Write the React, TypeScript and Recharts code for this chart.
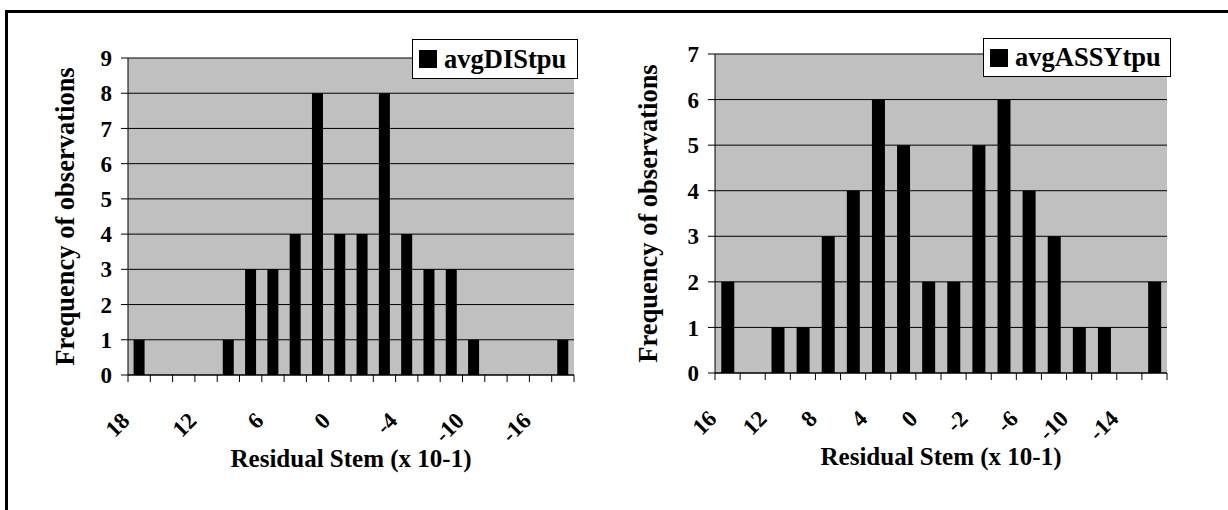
import React from "react";
import { Bar, BarChart, CartesianGrid, XAxis, YAxis, Legend } from "recharts";

// stems (x 10-1) and frequencies
const disStems = ["18", "16", "14", "12", "10", "8", "6", "4", "2", "0", "-0", "-2", "-4", "-6", "-8", "-10", "-12", "-14", "-16", "-18"];
const disFreq = [1, 0, 0, 0, 1, 3, 3, 4, 8, 4, 4, 8, 4, 3, 3, 1, 0, 0, 0, 1];
const disTicks = [0, 1, 2, 3, 4, 5, 6, 7, 8, 9];

const assyStems = ["16", "14", "12", "10", "8", "6", "4", "2", "0", "-0", "-2", "-4", "-6", "-8", "-10", "-12", "-14", "-16"];
const assyFreq = [2, 0, 1, 1, 3, 4, 6, 5, 2, 2, 5, 6, 4, 3, 1, 1, 0, 2];
const assyTicks = [0, 1, 2, 3, 4, 5, 6, 7];

const FONT = '"Liberation Serif", "Times New Roman", serif';

const makeXTick = (count: number, every: number, catW: number) => (props: any) => {
  const { x, y, payload } = props;
  const i = payload.index;
  const left = x - catW / 2;
  const ax = left + 3;
  const ay = y + 47;
  return (
    <g>
      <line x1={left} y1={y} x2={left} y2={y + 7} stroke="#000" />
      {i === count - 1 && <line x1={x + catW / 2} y1={y} x2={x + catW / 2} y2={y + 7} stroke="#000" />}
      {i % every === 0 && (
        <text
          x={ax}
          y={ay}
          textAnchor="end"
          transform={`rotate(-45 ${ax} ${ay})`}
          fontFamily={FONT}
          fontWeight="bold"
          fontSize={23}
          fill="#000"
        >
          {payload.value}
        </text>
      )}
    </g>
  );
};

const yTitle = (dx: number) => (props: any) => {
  const vb = props.viewBox;
  const cx = vb.x + vb.width + dx;
  const cy = vb.y + vb.height / 2;
  return (
    <text
      x={cx}
      y={cy}
      transform={`rotate(-90 ${cx} ${cy})`}
      textAnchor="middle"
      dominantBaseline="central"
      fontFamily={FONT}
      fontWeight="bold"
      fontSize={26.5}
      fill="#000"
    >
      Frequency of observations
    </text>
  );
};

const xTitle = (props: any) => {
  const vb = props.viewBox;
  return (
    <text
      x={vb.x + vb.width / 2}
      y={vb.y + 92}
      textAnchor="middle"
      fontFamily={FONT}
      fontWeight="bold"
      fontSize={25}
      fill="#000"
    >
      Residual Stem (x 10-1)
    </text>
  );
};

const legendBox = (props: any) => {
  const item = props.payload && props.payload[0];
  return (
    <div
      style={{
        border: "1px solid #000",
        background: "#fff",
        height: "100%",
        boxSizing: "border-box",
        display: "flex",
        alignItems: "center",
        paddingLeft: 6,
        fontFamily: FONT,
        fontWeight: "bold",
        fontSize: 26.5,
        color: "#000",
        whiteSpace: "nowrap",
      }}
    >
      <span style={{ width: 18, height: 18, background: "#000", marginRight: 7, display: "inline-block", flexShrink: 0 }} />
      <span>{item ? item.value : ""}</span>
    </div>
  );
};

type PlotProps = {
  stems: string[];
  freq: number[];
  ticks: number[];
  name: string;
  width: number;
  height: number;
  plotLeft: number;
  plotRight: number;
  plotTop: number;
  plotBottom: number;
  every: number;
  titleDx: number;
  legendPos: { left: number; top: number; width: number; height: number };
};

function StemChart(p: PlotProps) {
  const data = p.stems.map((s, i) => ({ stem: s, freq: p.freq[i] }));
  const catW = (p.plotRight - p.plotLeft) / p.stems.length;
  const max = p.ticks[p.ticks.length - 1];
  return (
    <BarChart
      width={p.width}
      height={p.height}
      data={data}
      margin={{ top: p.plotTop, right: p.width - p.plotRight, bottom: 0, left: 0 }}
      barCategoryGap="25%"
    >
      <CartesianGrid vertical={false} stroke="#000" fill="#c0c0c0" fillOpacity={1} />
      <XAxis
        dataKey="stem"
        height={p.height - p.plotBottom}
        interval={0}
        tickLine={false}
        tickSize={0}
        tickMargin={0}
        axisLine={{ stroke: "#000" }}
        tick={makeXTick(p.stems.length, p.every, catW)}
        label={{ content: xTitle }}
      />
      <XAxis xAxisId="top" dataKey="stem" orientation="top" height={0} tick={false} tickLine={false} axisLine={{ stroke: "#808080" }} />
      <YAxis
        width={p.plotLeft}
        domain={[0, max]}
        ticks={p.ticks}
        interval={0}
        tickSize={7}
        tickMargin={9}
        tickLine={{ stroke: "#000" }}
        axisLine={{ stroke: "#000" }}
        tick={{ fontFamily: FONT, fontWeight: "bold", fontSize: 23, fill: "#000" }}
        label={{ content: yTitle(p.titleDx) }}
      />
      <YAxis yAxisId="right" orientation="right" width={0} domain={[0, max]} tick={false} tickLine={false} axisLine={{ stroke: "#808080" }} />
      <Legend
        layout="horizontal"
        verticalAlign="middle"
        align="center"
        content={legendBox}
        wrapperStyle={{ position: "absolute", ...p.legendPos }}
      />
      <Bar dataKey="freq" name={p.name} fill="#000" isAnimationActive={false} />
    </BarChart>
  );
}

export default function App() {
  return (
    <div style={{ position: "absolute", left: 0, top: 0, width: 1228, height: 510, overflow: "hidden", background: "#fff" }}>
      <div style={{ position: "absolute", left: 5, top: 10, width: 1260, height: 540, border: "3px solid #000" }} />
      <div style={{ position: "absolute", left: 0, top: 0 }}>
        <StemChart
          stems={disStems}
          freq={disFreq}
          ticks={disTicks}
          name="avgDIStpu"
          width={600}
          height={510}
          plotLeft={128}
          plotRight={574}
          plotTop={58}
          plotBottom={375}
          every={3}
          titleDx={-63}
          legendPos={{ left: 412, top: 39, width: 166, height: 40 }}
        />
      </div>
      <div style={{ position: "absolute", left: 610, top: 0 }}>
        <StemChart
          stems={assyStems}
          freq={assyFreq}
          ticks={assyTicks}
          name="avgASSYtpu"
          width={618}
          height={510}
          plotLeft={105}
          plotRight={557}
          plotTop={54}
          plotBottom={373}
          every={2}
          titleDx={-67}
          legendPos={{ left: 373, top: 38, width: 188, height: 39 }}
        />
      </div>
    </div>
  );
}
